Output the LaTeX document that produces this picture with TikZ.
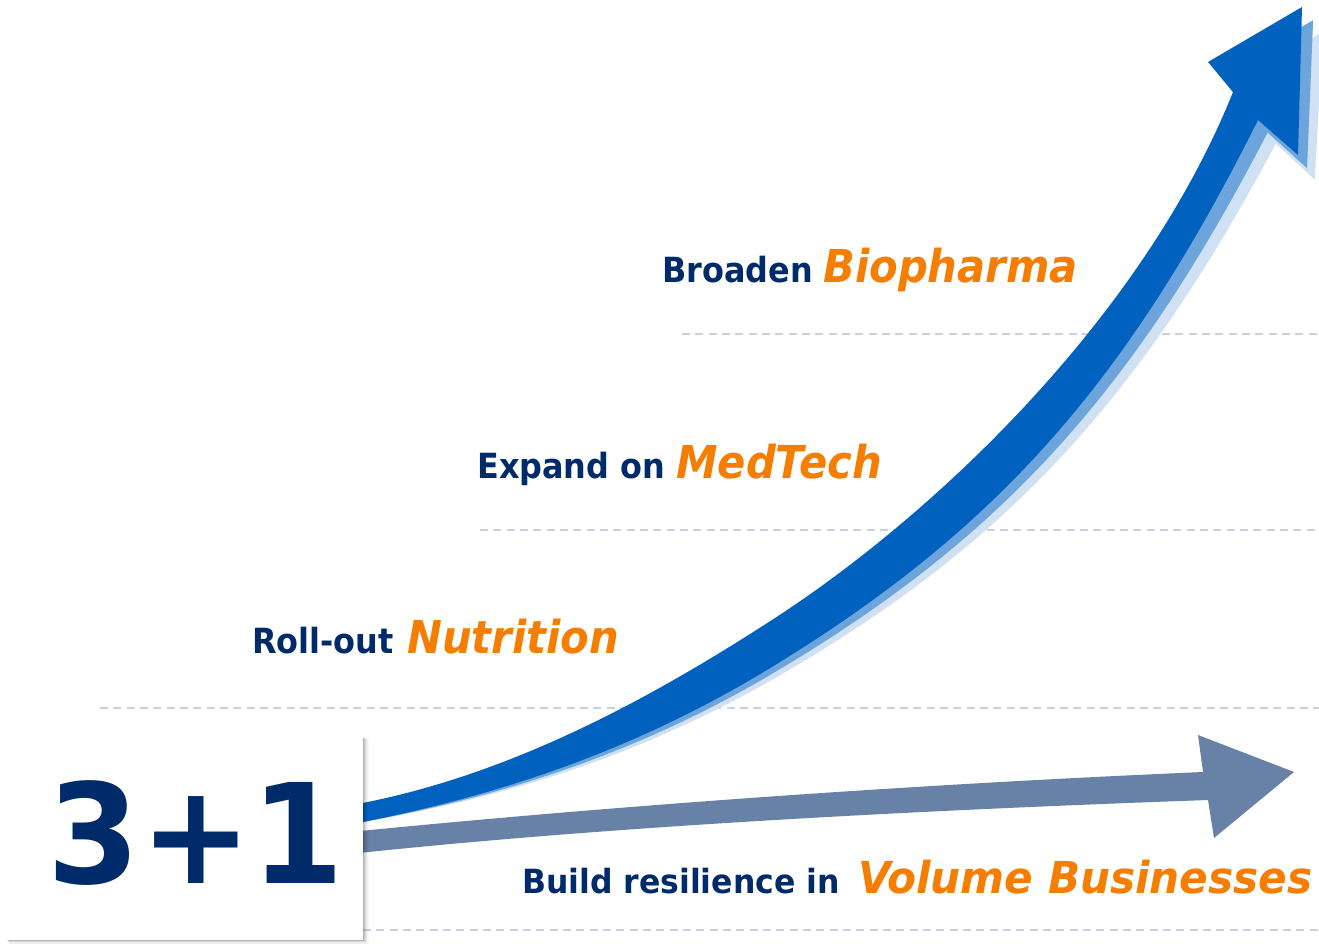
\documentclass[tikz,border=0pt]{standalone}
\usepackage{fontspec}
\setmainfont{DejaVu Sans}
\newfontfamily\narrowfont[FakeStretch=0.92]{DejaVu Sans}
\newfontfamily\bignumfont[FakeStretch=0.96]{DejaVu Sans}
\newfontfamily\condfont[FakeStretch=1.05]{DejaVu Sans Condensed}
\newfontfamily\condfontwide[FakeStretch=1.065]{DejaVu Sans Condensed}
\definecolor{navy}{HTML}{002B6B}
\definecolor{orng}{HTML}{F57D00}
\definecolor{arrowblue}{HTML}{0062BE}
\definecolor{shadowmid}{HTML}{6CA4DB}
\definecolor{shadowlight}{HTML}{CFE1F3}
\definecolor{greyblue}{HTML}{6781A7}
\definecolor{dashgrey}{HTML}{C9D0E2}
\tikzset{
  guide/.style={draw=dashgrey, line width=1.5pt, dash pattern=on 6pt off 4pt},
  navylabel/.style={text=navy, font=\narrowfont\bfseries\fontsize{26}{30}\selectfont, inner sep=0pt, anchor=base west},
  orangelabel/.style={text=orng, font=\narrowfont\bfseries\itshape\fontsize{34}{40}\selectfont, inner sep=0pt, anchor=base west},
  navycond/.style={text=navy, font=\condfont\bfseries\fontsize{25}{30}\selectfont, inner sep=0pt, anchor=base west},
  orangecond/.style={text=orng, font=\condfontwide\bfseries\itshape\fontsize{33}{40}\selectfont, inner sep=0pt, anchor=base west},
}
\newcommand\bigarrowpath{(340,808) -- (363,803)
  .. controls (503,775) and (635,709) .. (775,618)
  .. controls (935,514) and (1143,317) .. (1233,92)
  -- (1208,62) -- (1302,7) -- (1298,155) -- (1258,120)
  .. controls (1128,380) and (1000,526) .. (780,662)
  .. controls (640,749) and (503,794) .. (363,822)
  -- (340,826) -- cycle}
\begin{document}
\begin{tikzpicture}[x=0.75pt,y=-0.75pt]
\useasboundingbox (0,0) rectangle (1319,944);
\fill[white] (0,0) rectangle (1319,944);
% guide lines
\coordinate (g1a) at (682,334); \coordinate (g1b) at (1319,334);
\coordinate (g2a) at (480,530); \coordinate (g2b) at (1315,530);
\coordinate (g3a) at (100,708); \coordinate (g3b) at (1319,708);
\coordinate (g4a) at (363,930); \coordinate (g4b) at (1319,930);
\draw[guide] (g1a) -- (g1b);
\draw[guide] (g2a) -- (g2b);
\draw[guide] (g3a) -- (g3b);
\draw[guide] (g4a) -- (g4b);
% big blue arrow with shadows
\begin{scope}[rotate around={-1.5:(363,812)}]
  \fill[shadowlight] \bigarrowpath;
\end{scope}
\begin{scope}[rotate around={-0.8:(363,812)}]
  \fill[shadowmid] \bigarrowpath;
\end{scope}
\fill[arrowblue] \bigarrowpath;
% grey arrow
\fill[greyblue] (340,833) .. controls (600,807) and (900,785) .. (1203,772)
  -- (1198,735) -- (1294,772) -- (1214,838) -- (1208,800)
  .. controls (900,811) and (600,827) .. (340,855) -- cycle;
% box with soft shadow
\foreach \i/\o in {1/0.10,2/0.08,3/0.06,4/0.04,5/0.03,6/0.02}{
  \fill[black,opacity=\o] (7+\i*0.3,737+\i*0.3) rectangle (363+\i,940+\i*0.7);
}
\node[fill=white, inner sep=0pt, minimum width=356*0.75pt, minimum height=203*0.75pt, anchor=north west] (box) at (7,737) {};
\node[text=navy, font=\bignumfont\bfseries\fontsize{104}{110}\selectfont, inner sep=0pt, anchor=base] (num) at (196,883) {3+1};
% labels
\node[navylabel] (t1a) at (662,283) {Broaden};
\node[orangelabel] (t1b) at (823,283) {Biopharma};
\node[navylabel] (t2a) at (477,478) {Expand on};
\node[orangelabel] (t2b) at (676,478) {MedTech};
\node[navylabel] (t3a) at (252,653) {Roll-out};
\node[orangelabel] (t3b) at (407,653) {Nutrition};
\node[navycond] (t4a) at (522,893) {Build resilience in};
\node[orangecond] (t4b) at (858,893) {Volume Businesses};
\end{tikzpicture}
\end{document}
